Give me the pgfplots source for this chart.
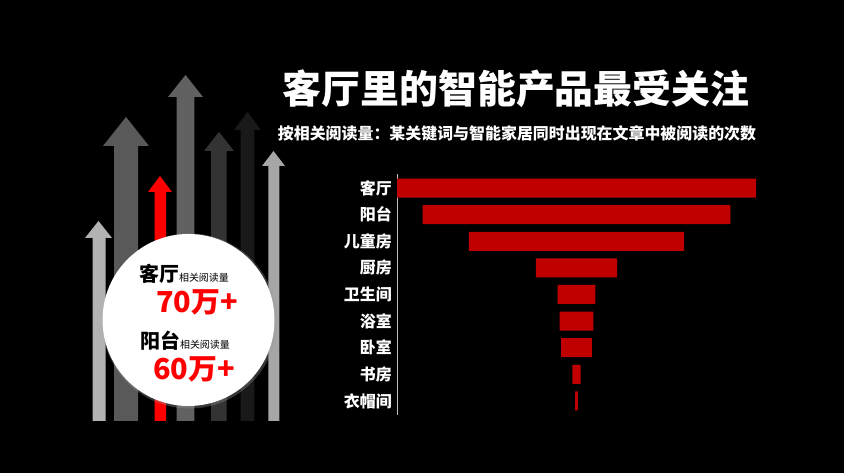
\documentclass[border=0pt]{standalone}
\usepackage{pgfplots}
\usepackage{pgfplotstable}
\pgfplotsset{compat=1.18}
\usepackage{fontspec}
\setmainfont{Noto Sans CJK SC}
\definecolor{barred}{HTML}{C00000}

% y: row, off: empty part left of the bar (centres the funnel), v: reading count (10k)
\pgfplotstableread{
y off v
0 0 70
1 5 60
2 14 42
3 27.1 15.8
4 31.3 7.4
5 31.7 6.6
6 32 6.0
7 34.2 1.6
8 34.75 0.5
}\rooms

% arrow: shaft left, shaft right, head left, head right, tip y, head base y, bottom y, colour (y from the top)
\newcommand{\uparr}[8]{%
  \fill[#8] (#1,473-#7) -- (#1,473-#6) -- (#3,473-#6) -- ({(#3+#4)/2},473-#5)
    -- (#4,473-#6) -- (#2,473-#6) -- (#2,473-#7) -- cycle;}

\begin{document}
\begin{tikzpicture}[x=1bp,y=1bp]
\fill[black] (0,0) rectangle (844,473);

\uparr{92.7}{105.7}{85}{112}{221}{238}{421}{black!30!white}
\uparr{114}{138}{103}{149}{117}{146}{421}{black!65!white}
\uparr{154.7}{166}{148}{172}{176}{192}{421}{red}
\uparr{176.7}{194.3}{168}{203}{75}{97}{421}{black!62!white}
\uparr{211}{226.7}{204}{234}{132}{151}{421}{black!80!white}
\uparr{240.7}{254.3}{234}{261}{112}{130}{421}{black!90!white}
\uparr{268.3}{279.3}{262}{285}{151}{166}{421}{black!35!white}

\fill[black!40, opacity=0.35] (189.5,152) circle (87.5);
\fill[white] (188.5,153) circle (86);

\node[anchor=base west, inner sep=0pt] at (139,191)
  {\bfseries\fontsize{20}{20}\selectfont 客厅\mdseries\fontsize{10}{10}\selectfont 相关阅读量};
\node[anchor=base west, inner sep=0pt, text=red] at (156,160)
  {\bfseries\fontsize{29}{29}\selectfont 70万+};
\node[anchor=base west, inner sep=0pt] at (140,124)
  {\bfseries\fontsize{20}{20}\selectfont 阳台\mdseries\fontsize{10}{10}\selectfont 相关阅读量};
\node[anchor=base west, inner sep=0pt, text=red] at (153,93)
  {\bfseries\fontsize{29}{29}\selectfont 60万+};

\node[text=white, inner sep=0pt] at (516,384.5)
  {\bfseries\fontsize{39}{39}\selectfont 客厅里的智能产品最受关注};
\node[text=white, inner sep=0pt] at (517,339.5)
  {\bfseries\fontsize{16}{16}\selectfont 按相关阅读量：某关键词与智能家居同时出现在文章中被阅读的次数};

\begin{axis}[
  at={(397bp,58bp)}, anchor=south west,
  scale only axis, width=359bp, height=241bp,
  xbar stacked, bar width=19bp,
  xmin=0, xmax=70, ymin=-0.53, ymax=8.53, y dir=reverse,
  hide x axis, axis y line=left,
  axis line style={-, draw=black!25!white, line width=0.6pt},
  ytick={0,...,8},
  yticklabels={客厅,阳台,儿童房,厨房,卫生间,浴室,卧室,书房,衣帽间},
  major tick length=0pt,
  yticklabel style={text=white, font=\bfseries\fontsize{16}{16}\selectfont, inner sep=0pt, xshift=-5bp},
]
\addplot[draw=none, fill=none] table[x=off, y=y] {\rooms};
\addplot[draw=none, fill=barred] table[x=v, y=y] {\rooms};
\end{axis}
\end{tikzpicture}
\end{document}
